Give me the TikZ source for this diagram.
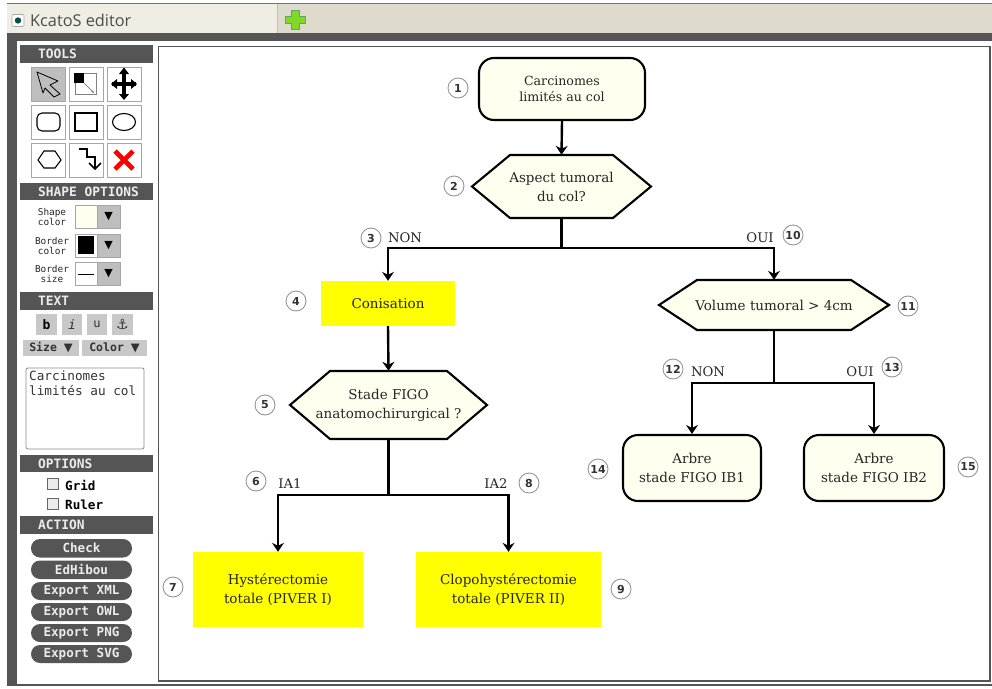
\documentclass[tikz,border=0pt]{standalone}
\usepackage{fontspec}
\setmainfont{DejaVu Serif}
\setsansfont{DejaVu Sans}
\setmonofont{DejaVu Sans Mono}
\newfontfamily\uisans{Open Sans}
\usetikzlibrary{arrows.meta}
\definecolor{cream}{RGB}{255,255,240}
\definecolor{band}{RGB}{85,85,85}
\definecolor{tabbar}{RGB}{222,218,206}
\definecolor{tabfill}{RGB}{240,237,228}
\definecolor{btn}{RGB}{190,190,190}
\definecolor{ybox}{RGB}{255,255,0}
\definecolor{ringc}{RGB}{150,150,150}
\tikzset{
 x=1pt,y=-1pt,
 flow/.style={line width=2.4pt,black},
 arr/.style={flow,-{Stealth[length=9pt,width=12pt,inset=3pt]}},
 tnode/.style={align=center,font=\fontsize{13.5}{19}\selectfont,text=black!85,inner sep=0pt},
 roundbox/.style={draw=black,line width=2.1pt,fill=cream,rounded corners=15pt,align=center,inner sep=0pt},
 yellowbox/.style={fill=ybox,align=center,inner sep=0pt,font=\fontsize{13.5}{19}\selectfont,text=black!85},
 hexline/.style={draw=black,line width=2.1pt,fill=cream,line join=miter},
 ring/.style={circle,draw=ringc,line width=0.9pt,fill=white,minimum size=20pt,inner sep=0pt,font=\sffamily\bfseries\fontsize{11}{11}\selectfont,text=black!80},
 lab/.style={font=\fontsize{13.2}{13.2}\selectfont,text=black!85,inner sep=0pt},
 header/.style={fill=band,text=white!92!black,font=\ttfamily\bfseries\fontsize{12.9}{12.9}\selectfont,inner sep=0pt,text width=97pt,align=left},
 toolbtn/.style={draw=black!35,line width=0.9pt,fill=white},
 smalllab/.style={font=\ttfamily\fontsize{9.4}{10}\selectfont,align=center,inner sep=0pt,text=black!85},
 graybtn/.style={fill=btn!85!white,inner sep=0pt,font=\ttfamily\bfseries\fontsize{11.5}{11.5}\selectfont,text=black!80},
 pill/.style={fill=band,rounded corners=9pt,text=white!92!black,font=\ttfamily\bfseries\fontsize{12.6}{12.6}\selectfont,inner sep=0pt},
 chk/.style={draw=black!60,line width=0.8pt,fill=black!8},
}
% \boxat{name}{x1}{y1}{x2}{y2}{style}{text}
\newcommand{\boxat}[7]{\node[#6,minimum width=#4pt-#2pt,minimum height=#5pt-#3pt] (#1) at ({(#2+#4)/2},{(#3+#5)/2}) {#7};}
% \hexat{name}{x1}{y1}{x2}{y2}{inset}{text}
\newcommand{\hexat}[7]{%
 \draw[hexline] (#2,{(#3+#5)/2}) -- ({#2+#6},#3) -- ({#4-#6},#3) -- (#4,{(#3+#5)/2}) -- ({#4-#6},#5) -- ({#2+#6},#5) -- cycle;
 \node[tnode,minimum width=#4pt-#2pt,minimum height=#5pt-#3pt] (#1) at ({(#2+#4)/2},{(#3+#5)/2}) {#7};}
\newcommand{\dropdown}[4]{% name y1 y2 swatch
 \boxat{#1}{75}{#2}{97}{#3}{draw=black!35,line width=0.8pt,fill=#4}{}
 \boxat{#1a}{97}{#2}{120}{#3}{draw=black!35,line width=0.8pt,fill=btn,font=\sffamily\fontsize{11}{11}\selectfont}{▼}}
\begin{document}
\begin{tikzpicture}
\useasboundingbox (0,0) rectangle (992,688);
\fill[white] (0,0) rectangle (992,688);
% window chrome
\fill[tabbar] (7,3) rectangle (992,33);
\fill[black!55] (7,3) rectangle (992,4);
\fill[tabfill] (7,4) rectangle (277,33);
\draw[black!25,line width=0.8pt] (277,4) -- (277,33);
\fill[band] (7,33) rectangle (992,45);
\fill[band] (7,33) rectangle (17,686);
\fill[white] (17,40) rectangle (992,684);
\fill[band] (7,684) rectangle (992,686);
\fill[band] (17,40) rectangle (992,41);
% tab title
\node[draw=black!35,line width=0.7pt,fill=white,minimum size=12pt,inner sep=0pt,rounded corners=1pt] (tabicon) at (18,20.5) {};
\fill[black!55!green!70!blue] (tabicon.center) circle (3.2pt);
\node[anchor=west,inner sep=0pt,text=black!70,font=\uisans\fontsize{16.3}{16.3}\selectfont] (tabtitle) at (30,20.5) {KcatoS editor};
\fill[green!50!yellow!70!gray,draw=green!40!black!60,line width=0.6pt]
 (291,10) -- (299,10) -- (299,16) -- (305,16) -- (305,23) -- (299,23) -- (299,29) -- (291,29) -- (291,23) -- (285,23) -- (285,16) -- (291,16) -- cycle;
% canvas
\draw[band,line width=1.6pt,fill=white] (158.5,46.5) rectangle (990,681);
% headers
\boxat{hTools}{20}{45}{153}{63}{header}{TOOLS}
\boxat{hShape}{20}{183}{153}{200}{header}{\mbox{SHAPE\hspace{0.602em}OPTIONS}}
\boxat{hText}{20}{292}{153}{310}{header}{TEXT}
\boxat{hOpt}{20}{455}{153}{472}{header}{OPTIONS}
\boxat{hAct}{20}{516}{153}{534}{header}{ACTION}
% tool buttons
\boxat{b1}{31.5}{67}{65.5}{101}{toolbtn,fill=btn}{}
\boxat{b2}{69.5}{67}{103.5}{101}{toolbtn}{}
\boxat{b3}{107.5}{67}{141}{101}{toolbtn}{}
\boxat{b4}{31.5}{105}{65.5}{139}{toolbtn}{}
\boxat{b5}{69.5}{105}{103.5}{139}{toolbtn}{}
\boxat{b6}{107.5}{105}{141}{139}{toolbtn}{}
\boxat{b7}{31.5}{143}{65.5}{177}{toolbtn}{}
\boxat{b8}{69.5}{143}{103.5}{177}{toolbtn}{}
\boxat{b9}{107.5}{143}{141}{177}{toolbtn}{}
% arrow icon
\draw[black,line width=0.8pt,line join=round] (37,72) -- (58,81) -- (50,85) -- (60,94) -- (54,97) -- (45,88) -- (43,93) -- cycle;
% resize icon
\draw[black!50,line width=0.7pt] (75,73) rectangle (96,94);
\fill[black] (74,73) rectangle (84,83);
\draw[black!60,line width=0.7pt,-{Stealth[length=3pt]}] (84,83) -- (94,93);
% move icon
\draw[black,line width=3.2pt] (124,72) -- (124,96) (112,84) -- (136,84);
\fill[black] (124,67.5) -- (119,74) -- (129,74) -- cycle (124,100) -- (119,94) -- (129,94) -- cycle
 (111,84) -- (117,79) -- (117,89) -- cycle (137,84) -- (131,79) -- (131,89) -- cycle;
% shape icons
\draw[black,line width=1.1pt,rounded corners=5pt] (37,113) rectangle (60,131);
\draw[black,line width=1.1pt] (75,113) rectangle (97,131);
\draw[black,line width=1.1pt] (124,122) ellipse (11.5pt and 8.5pt);
\draw[black,line width=1.1pt] (38,160) -- (44,151) -- (55,151) -- (61,160) -- (55,168) -- (44,168) -- cycle;
\draw[black,line width=1.7pt] (79,149) -- (87,149) -- (87,157) -- (95,157) -- (95,168);
\draw[black,line width=1.7pt] (89,163) -- (95,169) -- (101,163);
\draw[red,line width=4.6pt] (115,151) -- (133,169) (133,151) -- (115,169);
% shape options
\node[smalllab] (lShape) at (52,217) {Shape\\color};
\dropdown{dShape}{205.5}{228.5}{cream}
\node[smalllab] (lBcol) at (52,246) {Border\\color};
\dropdown{dBcol}{234}{257}{white}
\fill[black] (78,236) rectangle (94,254);
\node[smalllab] (lBsize) at (52,274) {Border\\size};
\dropdown{dBsize}{262.5}{285}{white}
\draw[black,line width=1.1pt] (78,274.5) -- (94,274.5);
% text buttons
\boxat{tb}{36}{314}{57}{335}{graybtn,font=\ttfamily\bfseries\fontsize{13}{13}\selectfont,text=black}{b}
\boxat{ti}{62}{314}{82}{335}{graybtn,font=\ttfamily\fontsize{13}{13}\selectfont\itshape}{i}
\boxat{tu}{87}{314}{107}{335}{graybtn,font=\ttfamily\fontsize{12}{12}\selectfont}{u}
\boxat{ta}{112}{314}{133}{335}{graybtn,font=\sffamily\fontsize{14}{14}\selectfont}{⚓}
\boxat{sz}{23}{340}{79}{356}{graybtn}{Size \textsf{▼}}
\boxat{co}{82}{340}{147}{356}{graybtn}{Color \textsf{▼}}
\node[draw=black!45,line width=0.8pt,rounded corners=2pt,fill=white,minimum width=118pt,minimum height=81pt,inner sep=0pt] (ta1) at (85,408.5) {};
\node[anchor=north west,inner sep=0pt,align=left,font=\ttfamily\fontsize{12.7}{14.5}\selectfont,text=black!80] (ta2) at (29,371) {Carcinomes\\limités au col};
% options
\boxat{c1}{47.5}{478}{58.5}{489}{chk}{}
\boxat{c2}{47.5}{498}{58.5}{509}{chk}{}
\node[anchor=west,inner sep=0pt,font=\ttfamily\bfseries\fontsize{12.6}{12.6}\selectfont] (lGrid) at (65,485) {Grid};
\node[anchor=west,inner sep=0pt,font=\ttfamily\bfseries\fontsize{12.6}{12.6}\selectfont] (lRuler) at (65,505) {Ruler};
% action
\boxat{p1}{31}{539}{132}{557.5}{pill}{Check}
\boxat{p2}{31}{560.5}{132}{579}{pill}{EdHibou}
\boxat{p3}{31}{582}{132}{600}{pill}{Export XML}
\boxat{p4}{31}{603}{132}{621}{pill}{Export OWL}
\boxat{p5}{31}{624}{132}{642}{pill}{Export PNG}
\boxat{p6}{31}{645}{132}{663}{pill}{Export SVG}
% flow nodes
\boxat{n1}{479}{58}{645}{120}{roundbox,font=\fontsize{12.6}{16.5}\selectfont,text=black!85}{Carcinomes\\limités au col}
\hexat{n2}{472}{155}{651}{218}{38}{Aspect tumoral\\du col?}
\boxat{n4}{321}{281}{455}{326}{yellowbox}{Conisation}
\hexat{n5}{290}{371}{487}{439}{40}{Stade FIGO\\anatomochirurgical ?}
\boxat{n7}{193}{552}{363}{627}{yellowbox}{Hystérectomie\\totale (PIVER I)}
\boxat{n9}{416}{552}{601}{627}{yellowbox}{Clopohystérectomie\\totale (PIVER II)}
\hexat{n11}{659}{280}{889}{330}{38}{Volume tumoral > 4cm}
\boxat{n14}{623}{435}{761}{501}{roundbox,font=\fontsize{13.5}{19}\selectfont,text=black!85}{Arbre\\stade FIGO IB1}
\boxat{n15}{804}{435}{944}{501}{roundbox,font=\fontsize{13.5}{19}\selectfont,text=black!85}{Arbre\\stade FIGO IB2}
% junctions
\coordinate (j2) at (n2.south |- 0,248);
\coordinate (j5) at (n5.south |- 0,495);
\coordinate (j11) at (n11.south |- 0,383);
% connectors
\draw[arr] (n1.south) -- (n2.north);
\draw[flow] (n2.south) -- (j2);
\draw[arr] (j2) -| (n4.north);
\draw[arr] (j2) -| (n11.north);
\draw[arr] (n4.south) -- (n5.north);
\draw[flow] (n5.south) -- (j5);
\draw[arr] (j5) -| (n7.north);
\draw[arr] (j5) -| (n9.north);
\draw[flow] (n11.south) -- (j11);
\draw[arr] (j11) -| (n14.north);
\draw[arr] (j11) -| (n15.north);
% labels
\node[lab] (l1) at (405,238) {NON};
\node[lab] (l2) at (760,238) {OUI};
\node[lab] (l3) at (708,372) {NON};
\node[lab] (l4) at (860,372) {OUI};
\node[lab] (l5) at (290,484) {IA1};
\node[lab] (l6) at (496,484) {IA2};
% rings
\node[ring] (r1) at (458,88) {1};
\node[ring] (r2) at (454,186) {2};
\node[ring] (r3) at (371,238) {3};
\node[ring] (r4) at (296,301) {4};
\node[ring] (r5) at (265,405) {5};
\node[ring] (r6) at (256,481) {6};
\node[ring] (r7) at (173,587) {7};
\node[ring] (r8) at (529,483) {8};
\node[ring] (r9) at (621,589) {9};
\node[ring] (r10) at (793,235) {10};
\node[ring] (r11) at (908,306) {11};
\node[ring] (r12) at (673,369) {12};
\node[ring] (r13) at (892,367) {13};
\node[ring] (r14) at (598,469) {14};
\node[ring] (r15) at (968,467) {15};
\end{tikzpicture}
\end{document}
